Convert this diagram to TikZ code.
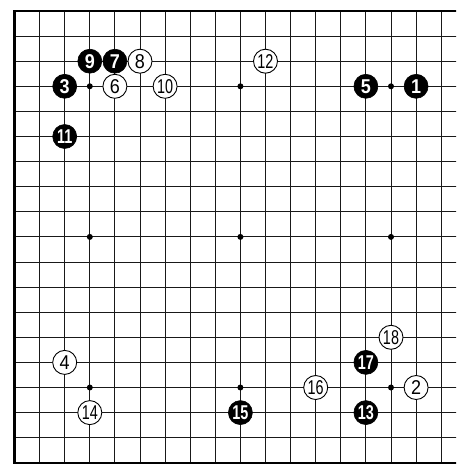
\documentclass[tikz,border=0pt]{standalone}
\usepackage{graphicx}
\usepackage{fontspec}
\newfontfamily\numfont{Liberation Sans}
\newcommand{\nar}[1]{\scalebox{0.72}[1]{#1}}
\newcommand{\one}[1]{\scalebox{0.9}[1]{#1}}
\begin{document}
\begin{tikzpicture}[
  gridline/.style={line width=1pt,black!90},
  edgeline/.style={line width=2.6pt,black},
  star/.style={circle,fill=black,inner sep=0pt,minimum size=6pt},
  bstone/.style={circle,fill=black,draw=black,line width=0.6pt,minimum size=24pt,inner sep=0pt,text=white,font=\numfont\bfseries\fontsize{20}{20}\selectfont},
  wstone/.style={circle,fill=white,draw=black,line width=0.9pt,minimum size=24pt,inner sep=0pt,text=black,font=\numfont\fontsize{20}{20}\selectfont}]
\useasboundingbox (0pt,0pt) rectangle (456pt,-464pt);
\fill[white] (0pt,0pt) rectangle (456pt,-464pt);
\clip (0pt,0pt) rectangle (456pt,-464pt);
\begin{scope}[shift={(14.5pt,-11pt)},x=25.1pt,y=-25.1pt]
  % grid
  \foreach \r in {1,...,17} \draw[gridline] (0,\r) -- (18,\r);
  \foreach \c in {1,...,17} \draw[gridline] (\c,0) -- (\c,18);
  \draw[edgeline] (18,0) -- (0,0) -- (0,18) -- (18,18);
  % star points
  \foreach \c/\r [count=\i] in {3/3,9/3,15/3,3/9,9/9,15/9,3/15,9/15,15/15}
    \node[star] (s\i) at (\c,\r) {};
  % stones
  \node[bstone] (m1)  at (16,3)  {\one{1}};
  \node[wstone] (m2)  at (16,15) {\one{2}};
  \node[bstone] (m3)  at (2,3)   {\one{3}};
  \node[wstone] (m4)  at (2,14)  {\one{4}};
  \node[bstone] (m5)  at (14,3)  {\one{5}};
  \node[wstone] (m6)  at (4,3)   {\one{6}};
  \node[bstone] (m7)  at (4,2)   {\one{7}};
  \node[wstone] (m8)  at (5,2)   {\one{8}};
  \node[bstone] (m9)  at (3,2)   {\one{9}};
  \node[wstone] (m10) at (6,3)   {\nar{10}};
  \node[bstone] (m11) at (2,5)   {\nar{11}};
  \node[wstone] (m12) at (10,2)  {\nar{12}};
  \node[bstone] (m13) at (14,16) {\nar{13}};
  \node[wstone] (m14) at (3,16)  {\nar{14}};
  \node[bstone] (m15) at (9,16)  {\nar{15}};
  \node[wstone] (m16) at (12,15) {\nar{16}};
  \node[bstone] (m17) at (14,14) {\nar{17}};
  \node[wstone] (m18) at (15,13) {\nar{18}};
\end{scope}
\end{tikzpicture}
\end{document}
